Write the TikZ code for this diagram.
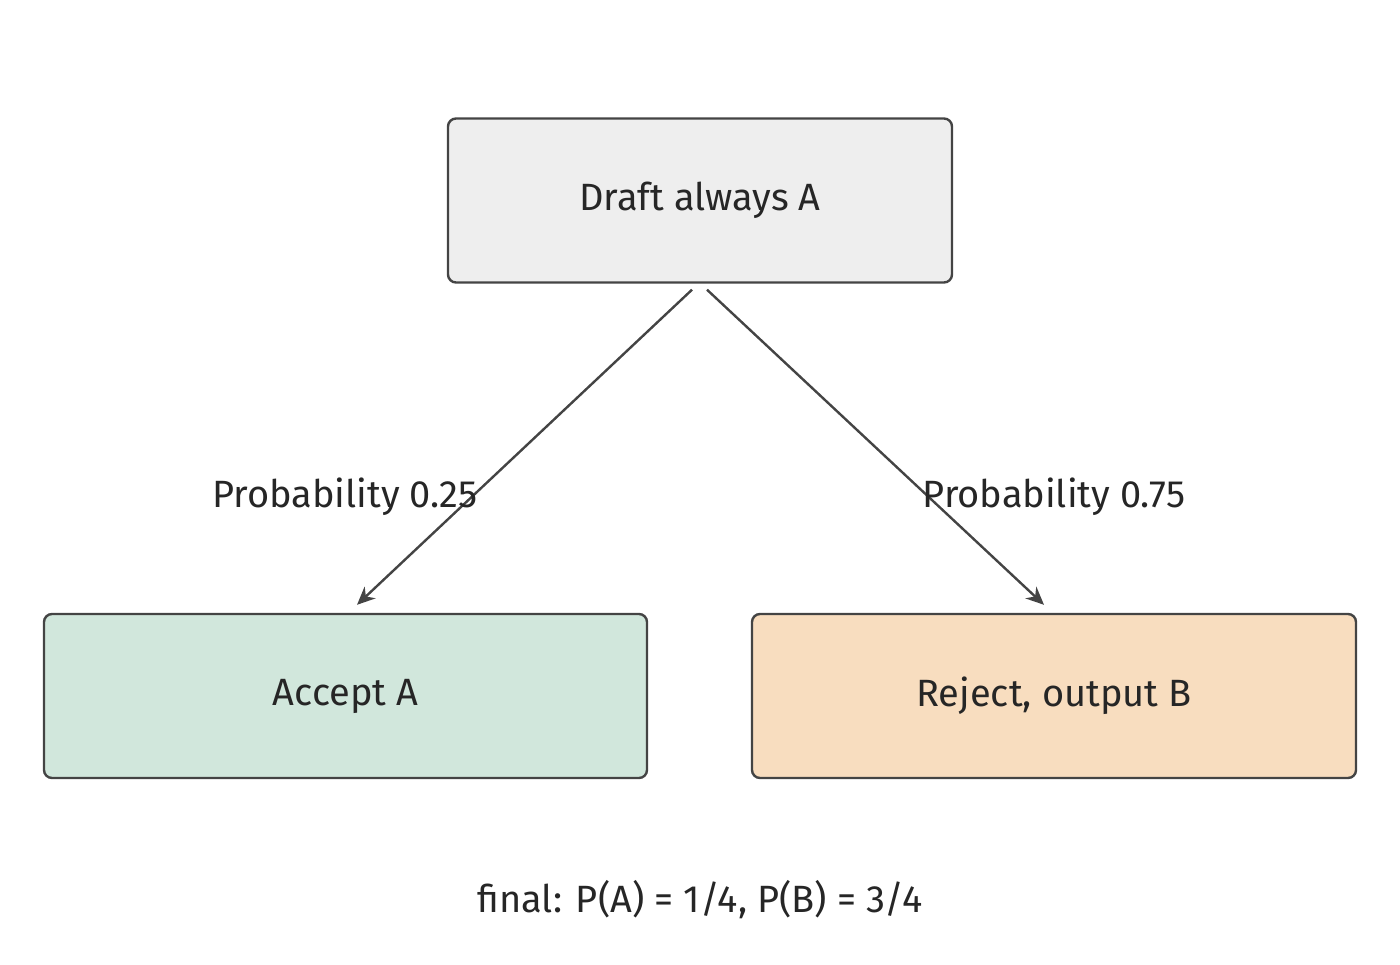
\documentclass[tikz,border=0pt]{standalone}
\usepackage{fontspec}
\setmainfont{Fira Sans}
\usetikzlibrary{calc,arrows.meta}
\definecolor{edgegray}{HTML}{444444}
\definecolor{draftfill}{HTML}{EEEEEE}
\definecolor{acceptfill}{HTML}{D1E7DC}
\definecolor{rejectfill}{HTML}{F8DDBF}
\tikzset{
% Box style for the three outcomes
step box/.style={draw=edgegray,line width=1.2pt,rounded corners=4pt,
  minimum width=252pt,minimum height=82pt,inner sep=0pt,font=\fontsize{19}{22}\selectfont,text=black!85},
flow arrow/.style={draw=edgegray,line width=1.2pt,-{Stealth[length=9pt,width=8pt]}},
edge label/.style={font=\fontsize{19}{22}\selectfont,text=black!85}
}
\begin{document}
\begin{tikzpicture}[x=0.5pt,y=-0.5pt]
      \useasboundingbox (0,0) rectangle (1400,964);
      % The boxes
      \node(draft)[step box, fill=draftfill] at (700,200.5){Draft always A};
      \node(accept)[step box, fill=acceptfill, minimum width=301.5pt] at (345.5,696){Accept A};
      \node(reject)[step box, fill=rejectfill, minimum width=302pt] at (1054,696){Reject, output B};
      % Arrow ends
      \coordinate (lstart) at ($(draft.south)+(-8,6)$);
      \coordinate (rstart) at ($(draft.south)+(7,6)$);
      \coordinate (lend) at ($(accept.north)+(11.5,-8)$);
      \coordinate (rend) at ($(reject.north)+(-10,-8)$);
      \draw[flow arrow] (lstart) -- (lend);
      \draw[flow arrow] (rstart) -- (rend);
      % Labels
      \node(lprob)[edge label] at (345,497){Probability 0.25};
      \node(rprob)[edge label] at (1054,497){Probability 0.75};
      \node(final)[edge label] at (700,900){final: P(A) = 1/4, P(B) = 3/4};
\end{tikzpicture}
\end{document}
